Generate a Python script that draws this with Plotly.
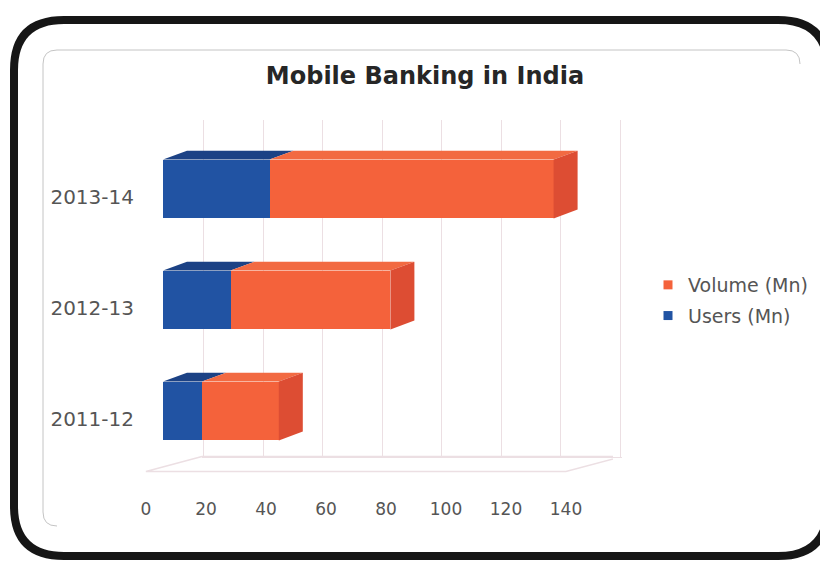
import plotly.graph_objects as go

# Mobile banking in India, millions
years = ["2011-12", "2012-13", "2013-14"]
users_mn = [13.0, 22.5, 35.5]
volume_mn = [25.6, 53.3, 94.7]
x_ticks = [0, 20, 40, 60, 80, 100, 120, 140]

W, H = 820, 569

# colours of the box faces
BLUE_FRONT, BLUE_TOP = "#2153a3", "#1c4285"
ORANGE_FRONT, ORANGE_TOP, ORANGE_SIDE = "#f4623b", "#f26a42", "#dd4d33"
GRID = "#ecdfe3"
TEXT = "#555555"

BAR_W = 0.53      # bar thickness in category units
DX, DY = 8.0, 0.08  # depth of each box (value units, category units)
WALL_DX, WALL_Y = 13.0, -0.41   # back wall origin in bar coordinates
FLOOR_DX, FLOOR_DY = 18.7, 0.135


def px(x):
    return x / W


def py(y):
    return 1 - y / H


def rounded(x0, y0, x1, y1, r):
    """Rounded rectangle path in paper units from pixel corners."""
    pts = [
        f"M{px(x0 + r)},{py(y0)}",
        f"L{px(x1 - r)},{py(y0)}",
        f"Q{px(x1)},{py(y0)} {px(x1)},{py(y0 + r)}",
        f"L{px(x1)},{py(y1 - r)}",
        f"Q{px(x1)},{py(y1)} {px(x1 - r)},{py(y1)}",
        f"L{px(x0 + r)},{py(y1)}",
        f"Q{px(x0)},{py(y1)} {px(x0)},{py(y1 - r)}",
        f"L{px(x0)},{py(y0 + r)}",
        f"Q{px(x0)},{py(y0)} {px(x0 + r)},{py(y0)}",
        "Z",
    ]
    return " ".join(pts)


def open_panel(x0, y0, x1, y1, r):
    """Left and top edges of the inner chart-area border."""
    pts = [
        f"M{px(x0 + r)},{py(y1)}",
        f"Q{px(x0)},{py(y1)} {px(x0)},{py(y1 - r)}",
        f"L{px(x0)},{py(y0 + r)}",
        f"Q{px(x0)},{py(y0)} {px(x0 + r)},{py(y0)}",
        f"L{px(x1 - r)},{py(y0)}",
        f"Q{px(x1)},{py(y0)} {px(x1)},{py(y0 + r)}",
    ]
    return " ".join(pts)


fig = go.Figure()

# --- back wall gridlines (subplot x/y, drawn underneath) ---
fig.add_trace(go.Scatter(x=[None], y=[None], xaxis="x", yaxis="y",
                         showlegend=False, hoverinfo="skip"))

# --- floor of the 3D box, in bar coordinates ---
wall_left, wall_right = WALL_DX + x_ticks[0], WALL_DX + x_ticks[-1]
floor_x = [wall_left, wall_right, wall_right - FLOOR_DX, wall_left - FLOOR_DX, wall_left]
floor_y = [WALL_Y, WALL_Y, WALL_Y - FLOOR_DY, WALL_Y - FLOOR_DY, WALL_Y]
fig.add_trace(go.Scatter(x=floor_x, y=floor_y, mode="lines", xaxis="x2", yaxis="y2",
                         line=dict(color=GRID, width=1.5), showlegend=False,
                         hoverinfo="skip"))

pos = list(range(len(years)))
totals = [u + v for u, v in zip(users_mn, volume_mn)]

# --- front faces: stacked horizontal bars ---
fig.add_trace(go.Bar(y=pos, x=users_mn, orientation="h", name="Users (Mn)",
                     marker=dict(color=BLUE_FRONT, line=dict(width=0)), width=BAR_W,
                     xaxis="x2", yaxis="y2", legendgroup="u", showlegend=False))
fig.add_trace(go.Bar(y=pos, x=volume_mn, orientation="h", name="Volume (Mn)",
                     marker=dict(color=ORANGE_FRONT, line=dict(width=0)), width=BAR_W,
                     xaxis="x2", yaxis="y2", legendgroup="v", showlegend=False))


def face(xs, ys, color):
    fig.add_trace(go.Scatter(x=xs, y=ys, mode="lines", fill="toself", fillcolor=color,
                             line=dict(width=0, color=color), xaxis="x2", yaxis="y2",
                             showlegend=False, hoverinfo="skip"))


# --- top and side faces giving the boxes depth ---
for c, u, t in zip(pos, users_mn, totals):
    top = c + BAR_W / 2
    bot = c - BAR_W / 2
    face([0, u, u + DX, DX, 0], [top, top, top + DY, top + DY, top], BLUE_TOP)
    face([u, t, t + DX, u + DX, u], [top, top, top + DY, top + DY, top], ORANGE_TOP)
    face([t, t + DX, t + DX, t, t], [bot, bot + DY, top + DY, top, bot], ORANGE_SIDE)

# --- legend entries ---
fig.add_trace(go.Scatter(x=[None], y=[None], mode="markers", name="Volume (Mn)",
                         marker=dict(symbol="square", size=9, color=ORANGE_FRONT),
                         legendgroup="v", xaxis="x2", yaxis="y2"))
fig.add_trace(go.Scatter(x=[None], y=[None], mode="markers", name="Users (Mn)",
                         marker=dict(symbol="square", size=9, color=BLUE_FRONT),
                         legendgroup="u", xaxis="x2", yaxis="y2"))

fig.update_layout(
    width=W, height=H,
    margin=dict(l=0, r=0, t=0, b=0, autoexpand=False),
    paper_bgcolor="white",
    plot_bgcolor="rgba(0,0,0,0)",
    barmode="stack",
    font=dict(family="DejaVu Sans", color=TEXT),
    title=dict(text="<b>Mobile Banking in India</b>", x=425 / W, xanchor="center",
               y=py(76), yanchor="middle",
               font=dict(family="DejaVu Sans", size=24, color="#262626")),
    # back wall
    xaxis=dict(domain=[px(202), px(622)], range=[x_ticks[0] - 0.6, x_ticks[-1] + 0.6],
               tickvals=x_ticks, showticklabels=False, showgrid=True, gridcolor=GRID,
               gridwidth=1, zeroline=False, showline=True, linecolor=GRID,
               anchor="y", fixedrange=True),
    yaxis=dict(domain=[py(457), py(120)], range=[0, 1], showgrid=False,
               showticklabels=False, zeroline=False, anchor="x", fixedrange=True),
    # bars
    xaxis2=dict(domain=[px(145), px(613)], range=[-6, 150], tickvals=x_ticks,
                showgrid=False, zeroline=False, showline=False, ticks="",
                ticklabelshift=-17, ticklabelstandoff=8,
                tickfont=dict(size=17, color=TEXT), anchor="y2", fixedrange=True),
    yaxis2=dict(domain=[py(488.7), py(111.3)], range=[-0.7, 2.7], tickvals=pos,
                ticktext=years, showgrid=False, zeroline=False, showline=False,
                ticks="", ticklabelshift=8, ticklabelstandoff=10,
                tickfont=dict(size=20, color=TEXT), anchor="x2", fixedrange=True),
    legend=dict(x=px(648), xanchor="left", y=py(266), yanchor="top",
                traceorder="grouped", tracegroupgap=3,
                font=dict(size=19, color=TEXT), bgcolor="rgba(0,0,0,0)",
                itemwidth=30),
    showlegend=True,
    shapes=[
        dict(type="path", xref="paper", yref="paper",
             path=open_panel(43, 50, 800, 526, 14),
             line=dict(color="#c4c4c4", width=1)),
        dict(type="path", xref="paper", yref="paper",
             path=rounded(14, 20, 828, 556, 50),
             line=dict(color="#161616", width=8)),
    ],
)

fig.write_html("out.html")
